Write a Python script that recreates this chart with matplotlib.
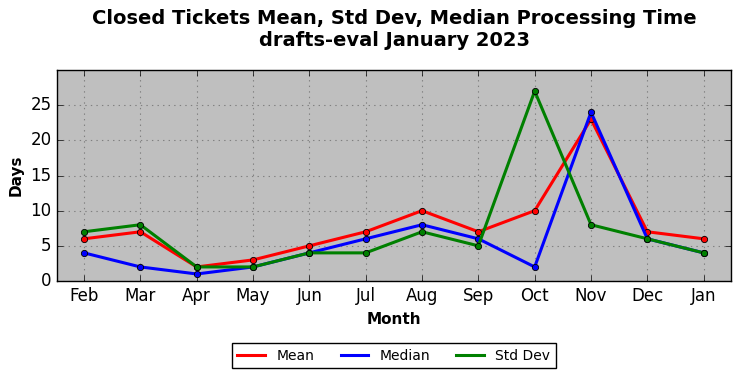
import matplotlib
matplotlib.use("Agg")
import matplotlib.pyplot as plt

months = ["Feb", "Mar", "Apr", "May", "Jun", "Jul", "Aug", "Sep", "Oct", "Nov", "Dec", "Jan"]
mean_vals = [6, 7, 2, 3, 5, 7, 10, 7, 10, 23, 7, 6]
median_vals = [4, 2, 1, 2, 4, 6, 8, 6, 2, 24, 6, 4]
std_vals = [7, 8, 2, 2, 4, 4, 7, 5, 27, 8, 6, 4]

plt.style.use("classic")
fig = plt.figure(figsize=(7.42, 3.78), dpi=100)
fig.patch.set_facecolor("white")
ax = fig.add_axes([0.0768, 0.2566, 0.908, 0.5582])
ax.set_facecolor("#bfbfbf")

x = list(range(len(months)))
for vals, col, lab in [(mean_vals, "red", "Mean"), (median_vals, "blue", "Median"), (std_vals, "green", "Std Dev")]:
    ax.plot(x, vals, color=col, lw=2.2, marker="o", markersize=4.5,
            markerfacecolor=col, markeredgecolor="black", markeredgewidth=0.6, label=lab)

ax.set_xticks(x)
ax.set_xticklabels(months, fontsize=12)
ax.set_xlim(-0.48, 11.48)
ax.set_ylim(0, 30)
ax.set_yticks(range(0, 30, 5))
ax.tick_params(axis="y", labelsize=12)
ax.grid(True, linestyle=":", color="#808080", linewidth=0.8)
ax.set_axisbelow(True)
ax.set_xlabel("Month", fontsize=11, fontweight="bold")
ax.set_ylabel("Days", fontsize=11, fontweight="bold")
fig.suptitle("Closed Tickets Mean, Std Dev, Median Processing Time\ndrafts-eval January 2023",
             fontsize=14, fontweight="bold", y=0.975, x=0.531)

leg = ax.legend(loc="center", bbox_to_anchor=(0.5, -0.355), ncol=3, fontsize=10,
                frameon=True, fancybox=False, handlelength=2.0, columnspacing=1.9,
                numpoints=1, markerscale=0)
for h in leg.get_lines():
    h.set_marker("")
leg.get_frame().set_edgecolor("black")

fig.savefig("out.png", dpi=100, facecolor="white")
